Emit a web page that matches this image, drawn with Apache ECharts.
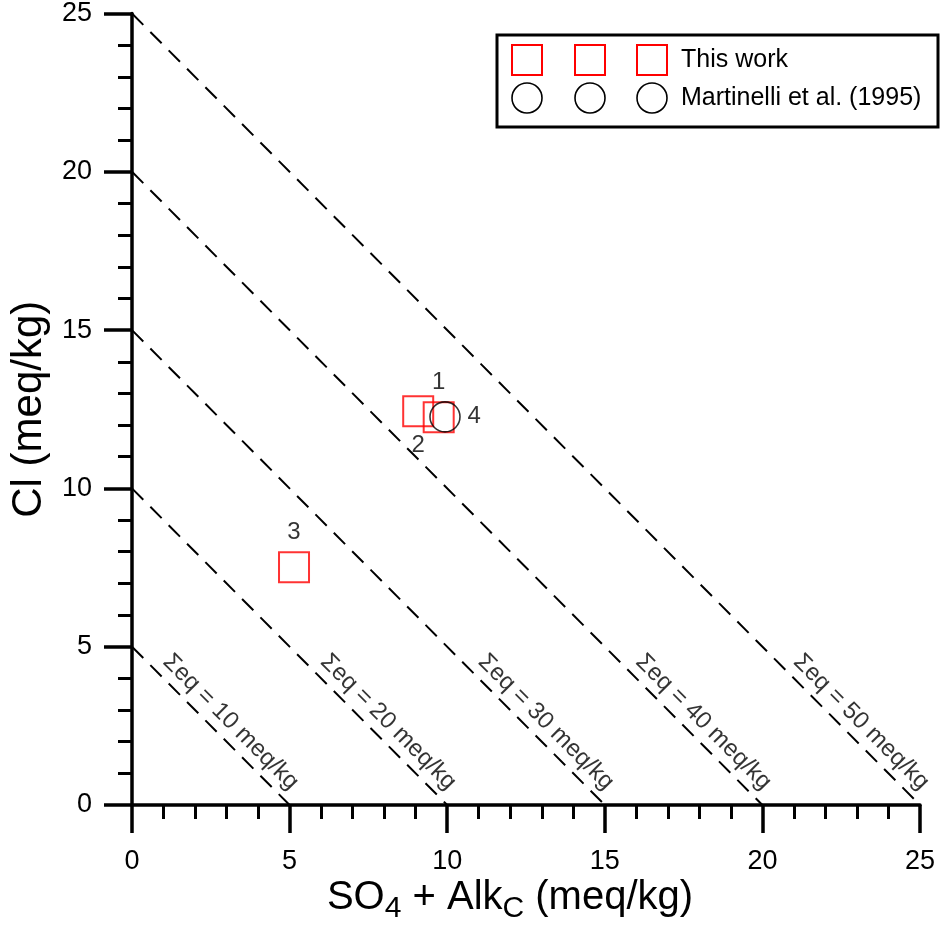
<!DOCTYPE html>
<html>
<head>
<meta charset="utf-8">
<script src="https://cdn.jsdelivr.net/npm/echarts@6/dist/echarts.min.js"></script>
<style>
  html, body { margin: 0; padding: 0; background: #fff; }
  #chart { width: 944px; height: 926px; }
</style>
</head>
<body>
<div id="chart"></div>
<script>
// ---- data ----
const sumEq = [10, 20, 30, 40, 50];                 // Σeq of each iso-line (meq/kg)
const sumEqLabels = ['Σeq = 10 meq/kg', 'Σeq = 20 meq/kg', 'Σeq = 30 meq/kg', 'Σeq = 40 meq/kg', 'Σeq = 50 meq/kg'];
const thisWorkX = [9.73, 9.08, 5.14];               // SO4 + AlkC
const thisWorkY = [12.25, 12.44, 7.51];             // Cl
const thisWorkIds = ['1', '2', '3'];
const martinelliX = [9.93];
const martinelliY = [12.26];
const martinelliIds = ['4'];
const axisTicks = [0, 5, 10, 15, 20, 25];
const xTitleParts = [['SO', 'n'], ['4', 's'], [' + Alk', 'n'], ['C', 's'], [' (meq/kg)', 'n']];

// ---- styling helpers ----
const FONT = 'Liberation Sans, Arial, sans-serif';
const idLabelPos = { '1': 'top', '2': 'bottom', '3': 'top', '4': 'right' };

const chart = echarts.init(document.getElementById('chart'));

const lineSeries = sumEq.map((s, i) => {
  const c = s / 2; // anion sum Cl + SO4 + Alk
  return {
    type: 'line',
    name: 'iso' + s,
    data: [[0, c], [c, 0]],
    symbol: 'none',
    silent: true,
    lineStyle: { color: '#000', width: 2, type: [16, 10] },
    z: 2
  };
});

const labelSeries = {
  type: 'scatter',
  name: 'isoLabels',
  silent: true,
  symbolSize: 0,
  data: sumEq.map((s, i) => ({ value: [s / 2 - 1.87, 2.62], name: sumEqLabels[i] })),
  label: {
    show: true,
    position: 'inside',
    rotate: -45,
    formatter: p => p.name,
    fontFamily: FONT,
    fontSize: 24,
    color: '#000'
  },
  z: 3
};

function pointData(xs, ys, ids) {
  return xs.map((x, i) => ({
    value: [x, ys[i]],
    name: ids[i],
    label: { position: idLabelPos[ids[i]] }
  }));
}

const thisWork = {
  type: 'scatter',
  name: 'This work',
  symbol: 'rect',
  symbolSize: 30,
  data: pointData(thisWorkX, thisWorkY, thisWorkIds),
  itemStyle: { color: 'none', borderColor: '#ff0000', borderWidth: 2 },
  label: { show: true, formatter: p => p.name, fontFamily: FONT, fontSize: 24, color: '#000', distance: 5 },
  z: 5
};

const martinelli = {
  type: 'scatter',
  name: 'Martinelli et al. (1995)',
  symbol: 'circle',
  symbolSize: 30,
  data: pointData(martinelliX, martinelliY, martinelliIds),
  itemStyle: { color: 'none', borderColor: '#000', borderWidth: 1.6 },
  label: { show: true, formatter: p => p.name, fontFamily: FONT, fontSize: 24, color: '#000', distance: 5 },
  z: 6
};

const axisCommon = {
  type: 'value',
  min: axisTicks[0],
  max: axisTicks[axisTicks.length - 1],
  interval: axisTicks[1] - axisTicks[0],
  splitLine: { show: false },
  axisLine: { show: true, onZero: false, lineStyle: { color: '#000', width: 3.5 } },
  axisTick: { show: true, inside: false, length: 28, lineStyle: { color: '#000', width: 3.5 } },
  minorTick: { show: true, splitNumber: 5, length: 14, lineStyle: { color: '#000', width: 3 } },
  axisLabel: { color: '#000', fontFamily: FONT, fontSize: 27 }
};

const legendGraphic = [
  { type: 'rect', shape: { x: 497, y: 35, width: 441, height: 92 },
    style: { fill: '#fff', stroke: '#000', lineWidth: 3 }, z: 10 },
  ...[527, 590, 652].map(cx => ({ type: 'rect', shape: { x: cx - 15, y: 45, width: 30, height: 30 },
    style: { fill: 'none', stroke: '#ff0000', lineWidth: 2 }, z: 11 })),
  ...[527, 590, 652].map(cx => ({ type: 'circle', shape: { cx: cx, cy: 98, r: 15 },
    style: { fill: 'none', stroke: '#000', lineWidth: 1.6 }, z: 11 })),
  { type: 'text', x: 681, y: 60, style: { text: 'This work', fontFamily: FONT, fontSize: 25, fill: '#000', verticalAlign: 'middle' }, z: 11 },
  { type: 'text', x: 681, y: 98, style: { text: 'Martinelli et al. (1995)', fontFamily: FONT, fontSize: 25, fill: '#000', verticalAlign: 'middle' }, z: 11 }
];

// x-axis title with real subscripts, laid out by measured text widths
const titleSizes = { n: 40, s: 30 };
const titleCenterY = { n: 898, s: 909 };
const ctx = document.createElement('canvas').getContext('2d');
const widths = xTitleParts.map(([t, k]) => { ctx.font = titleSizes[k] + 'px "Liberation Sans"'; return ctx.measureText(t).width; });
const totalW = widths.reduce((a, b) => a + b, 0);
let cursor = 510 - totalW / 2;
const xTitleGraphic = xTitleParts.map(([t, k], i) => {
  const el = { type: 'text', x: cursor, y: titleCenterY[k],
    style: { text: t, fontFamily: '"Liberation Sans"', fontSize: titleSizes[k], fill: '#000', verticalAlign: 'middle', align: 'left' }, z: 11 };
  cursor += widths[i];
  return el;
});

chart.setOption({
  backgroundColor: '#fff',
  animation: false,
  grid: { left: 127, right: 24, top: 13, bottom: 121, containLabel: false },
  xAxis: Object.assign({}, axisCommon, {
    axisLabel: Object.assign({}, axisCommon.axisLabel, { margin: 43 })
  }),
  yAxis: Object.assign({}, axisCommon, {
    axisLabel: Object.assign({}, axisCommon.axisLabel, { margin: 40 }),
    name: 'Cl (meq/kg)',
    nameLocation: 'middle',
    nameGap: 82,
    nameTextStyle: { fontFamily: FONT, fontSize: 42, color: '#000' }
  }),
  series: [...lineSeries, labelSeries, thisWork, martinelli],
  graphic: [...legendGraphic, ...xTitleGraphic]
});
</script>
</body>
</html>
